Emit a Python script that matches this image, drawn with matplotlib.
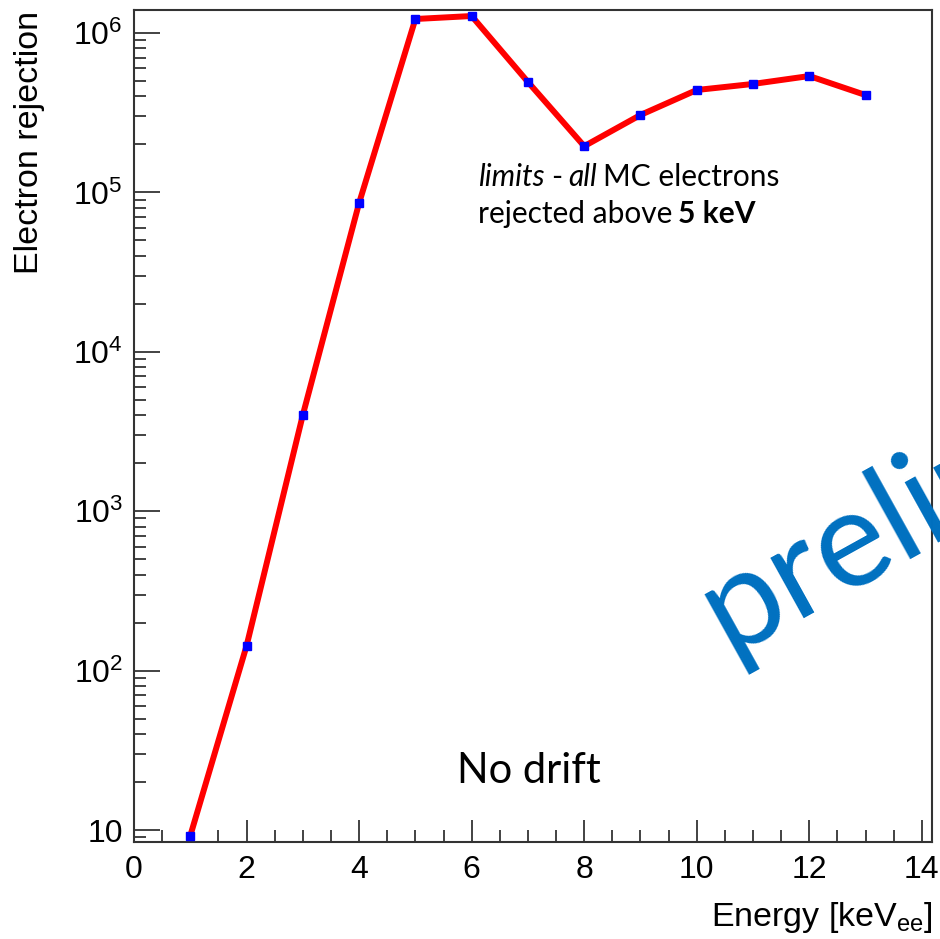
import math

import matplotlib
matplotlib.use("Agg")
import matplotlib.pyplot as plt
from matplotlib.ticker import FixedLocator, FuncFormatter, LogLocator, MultipleLocator

plt.rcParams["font.family"] = ["Liberation Sans", "DejaVu Sans"]
plt.rcParams["mathtext.fontset"] = "custom"
plt.rcParams["mathtext.rm"] = "Liberation Sans"
plt.rcParams["mathtext.it"] = "Liberation Sans:italic"
plt.rcParams["mathtext.bf"] = "Liberation Sans:bold"

# Electron rejection vs. energy (no drift)
energy_kev = [1, 2, 3, 4, 5, 6, 7, 8, 9, 10, 11, 12, 13]
rejection = [9.2, 143, 4015, 85800, 1.224e6, 1.278e6, 4.93e5, 1.95e5,
             3.06e5, 4.39e5, 4.79e5, 5.37e5, 4.08e5]

x_ticks = [0, 2, 4, 6, 8, 10, 12, 14]
y_ticks = [10, 1e2, 1e3, 1e4, 1e5, 1e6]

W, H = 940, 939
fig = plt.figure(figsize=(W / 100, H / 100), dpi=100)
ax = fig.add_axes([134 / W, 1 - 842 / H, (932 - 134) / W, (842 - 10) / H])

ax.plot(energy_kev, rejection, color="#ff0000", lw=4.3, solid_joinstyle="miter",
        marker="s", ms=5.8, mfc="#0000ff", mec="#0000ff", zorder=3)

ax.set_yscale("log")
ax.set_xlim(0, 14.18)
ax.set_ylim(8.41, 1.394e6)

ax.xaxis.set_major_locator(FixedLocator(x_ticks))
ax.xaxis.set_minor_locator(MultipleLocator(0.5))
ax.yaxis.set_major_locator(FixedLocator(y_ticks))
ax.yaxis.set_minor_locator(LogLocator(base=10, subs=range(2, 10), numticks=20))


def ylab(v, pos):
    e = int(round(math.log10(v)))
    return "10" if e == 1 else r"$\mathregular{10^{%d}}$" % e


ax.yaxis.set_major_formatter(FuncFormatter(ylab))
ax.xaxis.set_major_formatter(FuncFormatter(lambda v, p: "%d" % v))

ax.tick_params(axis="both", which="both", direction="in", top=False, right=False,
               labelsize=23, color="#222222", width=1.2)
ax.tick_params(axis="y", which="major", length=19, pad=8)
ax.tick_params(axis="y", which="minor", length=8.5)
ax.tick_params(axis="x", which="major", length=16, pad=9)
ax.tick_params(axis="x", which="minor", length=8.5)
for s in ax.spines.values():
    s.set_linewidth(1.5)
    s.set_color("#333333")

fig.text(30 / W, 1 - 11 / H, "Electron rejection", rotation=90, ha="center",
         va="top", fontsize=24.5)
fig.text(933 / W, 1 - 926 / H, r"Energy [keV$_{\mathregular{ee}}$]", ha="right",
         va="baseline", fontsize=24.5)

# Annotation with mixed styles, pieces chained left to right
tfont = ["Lato", "DejaVu Sans"]
tsize = 21.5
sp = 4.4


def chain(prev, s, **kw):
    return ax.annotate(s, xy=(1, 0), xycoords=prev, xytext=(kw.pop("gap", 0), 0),
                       textcoords="offset points", va="bottom", ha="left",
                       fontsize=tsize, family=tfont, **kw)


t1 = fig.text(478 / W, 1 - 186 / H, "limits", fontsize=tsize, family=tfont,
              style="italic", va="baseline")
t2 = chain(t1, "-", gap=sp)
t3 = chain(t2, "all", gap=sp, style="italic")
t4 = chain(t3, "MC electrons", gap=sp)
u1 = fig.text(478 / W, 1 - 223 / H, "rejected above", fontsize=tsize, family=tfont,
              va="baseline")
u2 = chain(u1, "5 keV", gap=sp, weight="bold")

fig.text(457 / W, 1 - 783 / H, "No drift", fontsize=30, family=tfont,
         va="baseline", ha="left")

fig.text(728 / W, 1 - 655 / H, "preliminary", fontsize=98, family=tfont,
         color="#0070c0", rotation=29, rotation_mode="anchor", ha="left",
         va="baseline")

fig.savefig("out.png", dpi=100)
